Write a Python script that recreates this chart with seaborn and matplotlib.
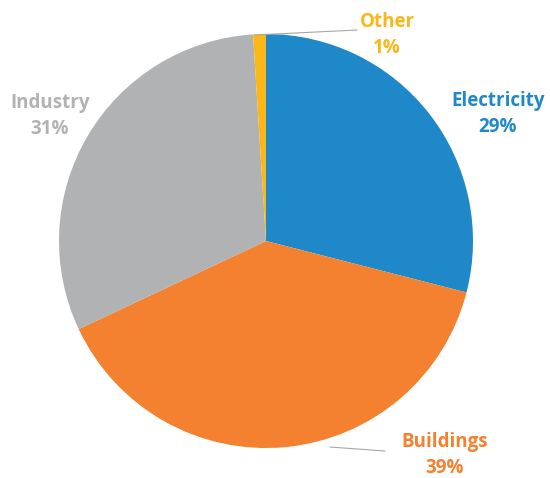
import seaborn as sns
import matplotlib.pyplot as plt

sectors = ['Electricity', 'Buildings', 'Industry', 'Other']
shares = [29, 39, 31, 1]
colors = ['#1f88c9', '#f3812f', '#b1b2b4', '#fbb718']

sns.set_theme(style='white')
plt.rcParams['font.family'] = ['Open Sans', 'DejaVu Sans']

W, H = 550, 478
cx, cy, r = 266, 241, 207

fig = plt.figure(figsize=(W / 100, H / 100), dpi=100)
ax = fig.add_axes([(cx - r) / W, (H - cy - r) / H, 2 * r / W, 2 * r / H])

ax.pie(shares, colors=colors, startangle=90, counterclock=False,
       radius=1, wedgeprops={'linewidth': 0})
ax.set_xlim(-1, 1)
ax.set_ylim(-1, 1)
ax.axis('off')


def px(x, y):
    return (x - cx) / r, (cy - y) / r


# label positions in pixel space of the reference
label_pos = {
    'Electricity': (498, 114),
    'Buildings': (445, 455),
    'Industry': (50, 116),
    'Other': (387, 35),
}
for name, val, col in zip(sectors, shares, colors):
    x, y = px(*label_pos[name])
    ax.text(x, y, f'{name}\n{val}%', color=col, ha='center', va='center',
            fontsize=13.5, fontweight='bold', linespacing=1.4, clip_on=False)

# leader lines
for (x0, y0), (x1, y1) in [((255, 35), (357, 30)), ((330, 447), (385, 451))]:
    a, b = px(x0, y0)
    c, d = px(x1, y1)
    ax.plot([a, c], [b, d], color='#a6a6a6', lw=0.8, clip_on=False)

fig.savefig('out.png', dpi=100)
